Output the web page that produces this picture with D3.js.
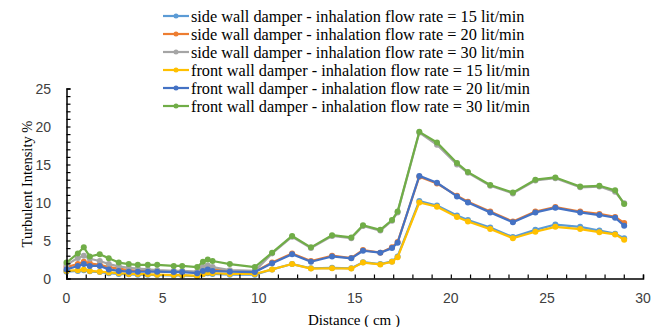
<!DOCTYPE html>
<html>
<head>
<meta charset="utf-8">
<script src="https://cdn.jsdelivr.net/npm/d3@7"></script>
<style>
  html, body { margin: 0; padding: 0; background: #fff; }
  svg { display: block; }
</style>
</head>
<body>
<svg id="chart" width="666" height="327"></svg>
<script>
// Measurement positions along the duct (cm)
const distance = [0, 0.59, 0.9, 1.21, 1.73, 2.2, 2.72, 3.24, 3.71, 4.23, 4.72, 5.58, 6.02, 6.8, 7.1, 7.35, 7.6, 8.5, 9.8,
  10.7, 11.74, 12.72, 13.82, 14.82, 15.43, 16.33, 16.94, 17.23, 18.36, 19.28, 20.32, 20.89, 22.05, 23.23, 24.4, 25.44, 26.73, 27.73, 28.55, 29.02];

// Turbulent intensity (%) for each configuration
const side15 = [0.9, 1.0, 1.1, 0.95, 0.85, 0.7, 0.6, 0.55, 0.5, 0.5, 0.45, 0.4, 0.4, 0.3, 0.55, 0.7, 0.6, 0.5, 0.5,
  1.2, 1.9, 1.35, 1.4, 1.35, 2.15, 1.9, 2.25, 2.9, 10.2, 9.6, 8.3, 7.7, 6.7, 5.45, 6.4, 7.1, 6.8, 6.3, 5.9, 5.3];
const side20 = [1.5, 1.9, 2.2, 2.0, 1.8, 1.5, 1.3, 1.1, 1.0, 1.0, 0.95, 0.9, 0.9, 0.8, 1.2, 1.3, 1.2, 1.0, 0.9,
  2.1, 3.3, 2.3, 3.0, 2.7, 3.75, 3.4, 4.1, 4.8, 13.4, 12.5, 10.9, 10.1, 8.8, 7.5, 8.8, 9.4, 8.8, 8.5, 8.1, 7.3];
const side30 = [1.8, 2.7, 3.0, 2.6, 2.3, 1.9, 1.6, 1.4, 1.3, 1.2, 1.1, 1.0, 1.0, 0.9, 1.5, 1.7, 1.5, 1.1, 1.0,
  3.3, 5.5, 4.0, 5.6, 5.3, 6.9, 6.3, 7.6, 8.7, 19.2, 17.6, 15.0, 13.9, 12.2, 11.2, 12.9, 13.2, 12.0, 12.1, 11.4, 9.9];
const front15 = [1.0, 1.1, 1.2, 1.0, 0.9, 0.8, 0.7, 0.6, 0.6, 0.55, 0.5, 0.45, 0.45, 0.35, 0.6, 0.8, 0.7, 0.6, 0.6,
  1.2, 1.9, 1.3, 1.35, 1.3, 2.1, 1.85, 2.2, 2.8, 10.0, 9.45, 8.1, 7.5, 6.5, 5.3, 6.15, 6.8, 6.5, 6.1, 5.8, 5.1];
const front20 = [1.2, 1.65, 1.9, 1.65, 1.65, 1.2, 1.0, 0.9, 0.9, 0.9, 0.9, 0.85, 0.85, 0.7, 1.0, 1.2, 1.0, 0.9, 0.85,
  2.0, 3.2, 2.2, 2.9, 2.65, 3.65, 3.4, 4.0, 4.7, 13.5, 12.6, 10.8, 10.0, 8.7, 7.4, 8.7, 9.3, 8.7, 8.35, 8.0, 6.95];
const front30 = [2.1, 3.3, 4.1, 2.9, 3.2, 2.65, 2.1, 1.9, 1.8, 1.8, 1.8, 1.65, 1.65, 1.5, 2.2, 2.5, 2.3, 1.9, 1.5,
  3.4, 5.6, 4.1, 5.7, 5.4, 7.0, 6.4, 7.7, 8.8, 19.3, 17.9, 15.2, 14.0, 12.3, 11.3, 13.0, 13.3, 12.1, 12.2, 11.6, 9.8];

const seriesNames = [
  "side wall damper - inhalation flow rate = 15 lit/min",
  "side wall damper - inhalation flow rate = 20 lit/min",
  "side wall damper - inhalation flow rate = 30 lit/min",
  "front wall damper - inhalation flow rate = 15 lit/min",
  "front wall damper - inhalation flow rate = 20 lit/min",
  "front wall damper - inhalation flow rate = 30 lit/min"
];
const seriesValues = [side15, side20, side30, front15, front20, front30];
const seriesColors = ["#5B9BD5", "#ED7D31", "#A5A5A5", "#FFC000", "#4472C4", "#70AD47"];

const xTicks = [0, 5, 10, 15, 20, 25, 30];
const yTicks = [0, 5, 10, 15, 20, 25];

const svg = d3.select("#chart");
const x = d3.scaleLinear().domain([0, 30]).range([66.5, 643]);
const y = d3.scaleLinear().domain([0, 25]).range([278.5, 88.5]);

const series = seriesNames.map((name, i) => ({
  name,
  color: seriesColors[i],
  points: distance.map((d, j) => ({ x: d, y: seriesValues[i][j] }))
}));

// Lines and markers
const line = d3.line().x(d => x(d.x)).y(d => y(d.y));
const plot = svg.append("g");
series.forEach(s => {
  const g = plot.append("g");
  g.append("path")
    .attr("d", line(s.points))
    .attr("fill", "none")
    .attr("stroke", s.color)
    .attr("stroke-width", 2.2)
    .attr("stroke-linejoin", "round");
  g.selectAll("circle").data(s.points).join("circle")
    .attr("cx", d => x(d.x))
    .attr("cy", d => y(d.y))
    .attr("r", 3)
    .attr("fill", s.color);
});

// Axes: minor ticks every unit pointing inward, labels every 5
const axisFont = "'Liberation Sans', Arial, sans-serif";
const xAxis = svg.append("g").attr("transform", "translate(0,278.5)")
  .call(d3.axisTop(x).tickValues(d3.range(0, 31)).tickSize(4).tickFormat(""));
xAxis.select(".domain").attr("stroke", "#000").attr("stroke-width", 1.5);
xAxis.selectAll(".tick line").attr("stroke", "#000").attr("stroke-width", 1.2);
svg.append("g").selectAll("text").data(xTicks).join("text")
  .attr("x", d => x(d)).attr("y", 303)
  .attr("text-anchor", "middle")
  .attr("font-family", axisFont).attr("font-size", 14).attr("fill", "#404040")
  .text(d => d);

const yAxis = svg.append("g").attr("transform", "translate(66.5,0)")
  .call(d3.axisRight(y).tickValues(d3.range(0, 26)).tickSize(4).tickFormat(""));
yAxis.select(".domain").attr("stroke", "#000").attr("stroke-width", 1.5);
yAxis.selectAll(".tick line").attr("stroke", "#000").attr("stroke-width", 1.2);
svg.append("g").selectAll("text").data(yTicks).join("text")
  .attr("x", 51).attr("y", d => y(d) + 5)
  .attr("text-anchor", "end")
  .attr("font-family", axisFont).attr("font-size", 14).attr("fill", "#404040")
  .text(d => d);

// Axis titles
const serif = "'Liberation Serif', 'Times New Roman', serif";
svg.append("text")
  .attr("x", 354).attr("y", 325)
  .attr("text-anchor", "middle")
  .attr("font-family", serif).attr("font-size", 15).attr("fill", "#000")
  .text("Distance ( cm )");
svg.append("text")
  .attr("transform", "translate(32,184) rotate(-90)")
  .attr("text-anchor", "middle")
  .attr("font-family", serif).attr("font-size", 14.5).attr("fill", "#000")
  .text("Turbulent Intensity %");

// Legend
const legend = svg.append("g").attr("transform", "translate(163,16)");
series.forEach((s, i) => {
  const row = legend.append("g").attr("transform", `translate(0,${i * 18})`);
  row.append("line").attr("x1", 0).attr("x2", 26).attr("y1", 0).attr("y2", 0)
    .attr("stroke", s.color).attr("stroke-width", 2.2);
  row.append("circle").attr("cx", 13).attr("cy", 0).attr("r", 2.5).attr("fill", s.color);
  row.append("text").attr("x", 28).attr("y", 5.5)
    .attr("font-family", serif).attr("font-size", 16.3).attr("fill", "#000")
    .text(s.name);
});
</script>
</body>
</html>
